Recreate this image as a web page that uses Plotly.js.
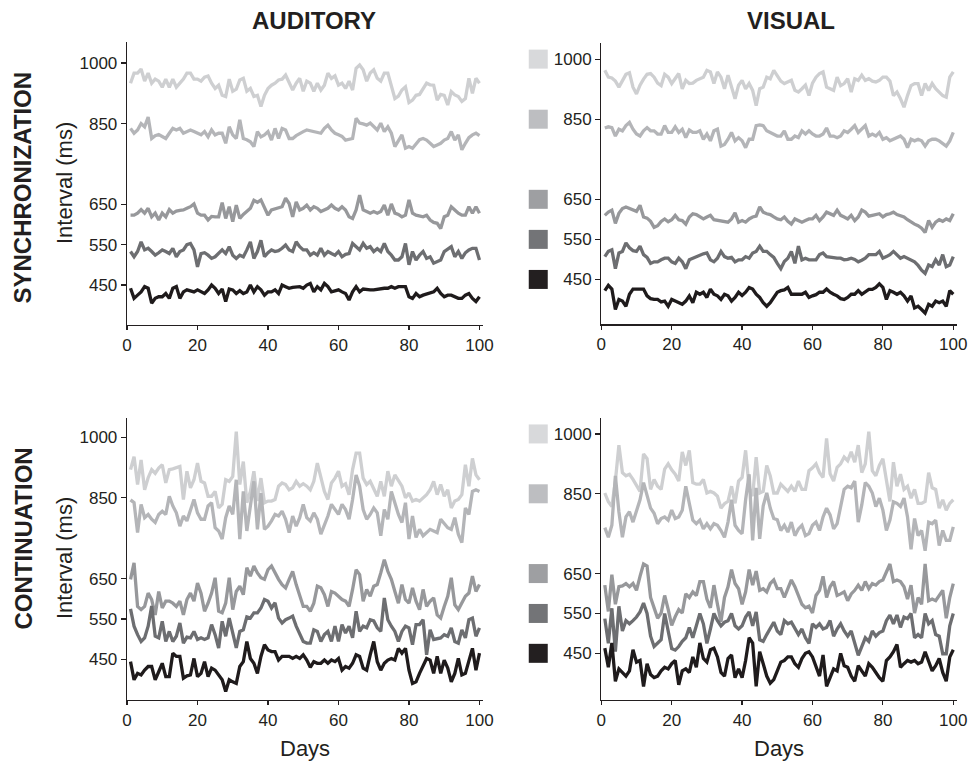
<!DOCTYPE html>
<html>
<head>
<meta charset="utf-8">
<script src="https://cdn.plot.ly/plotly-3.0.1.min.js"></script>
<style>html,body{margin:0;padding:0;background:#fff;}#chart{width:968px;height:762px;}</style>
</head>
<body>
<div id="chart"></div>
<script>
// Interval levels (ms), used for legend squares and y tick labels
const LEVELS = [1000, 850, 650, 550, 450];
const LEVEL_LABELS = ['1000', '850', '650', '550', '450'];
const X_TICKS = [0, 20, 40, 60, 80, 100];
const COLUMN_TITLES = ['AUDITORY', 'VISUAL'];
const ROW_TITLES = ['SYNCHRONIZATION', 'CONTINUATION'];

// ---- Synchronization, Auditory (days 1..100) ----
const SA_1000 = [950,975,975,985,955,975,950,960,955,940, 960,940,960,940,950,960,975,975,960,960, 955,965,968,950,937,945,920,917,960,930, 935,958,962,930,937,917,920,892,920,937, 945,950,958,960,970,950,933,950,962,930, 955,950,930,950,933,945,975,962,968,945, 950,937,955,933,987,995,983,955,975,983, 962,955,975,975,941,912,918,933,941,902, 908,920,922,937,950,946,945,908,922,920, 896,929,921,917,905,912,962,925,962,950];
const SA_850 = [838,826,834,850,842,866,813,820,823,818, 813,826,838,834,838,826,830,834,830,826, 822,830,817,834,822,826,826,801,842,822, 813,859,813,810,805,793,830,817,822,830, 809,838,813,838,834,813,813,820,826,830, 834,832,830,828,826,838,846,834,826,822, 818,809,811,813,863,851,849,846,851,842, 834,851,830,842,826,793,809,822,789,793, 789,800,810,813,809,801,793,797,801,809, 813,830,809,822,785,801,815,822,826,820];
const SA_650 = [623,623,628,637,628,640,619,628,611,628, 619,637,628,633,635,636,640,644,651,628, 623,623,611,620,619,619,654,615,644,607, 648,615,625,632,640,660,655,661,640,623, 636,638,640,644,665,652,619,656,636,640, 648,636,644,640,632,636,640,648,640,636, 644,636,619,615,636,673,636,632,628,632, 628,632,648,623,651,628,625,619,623,661, 628,623,620,619,623,611,605,603,590,619, 623,644,636,628,623,623,644,628,644,628];
const SA_550 = [533,520,533,557,537,541,533,524,530,537, 533,528,541,520,533,537,550,553,537,495, 528,530,524,516,520,528,537,528,545,524, 516,524,520,537,557,516,533,561,520,530, 537,533,535,541,549,537,533,557,545,537, 537,524,530,524,541,524,533,528,524,533, 520,526,528,553,545,537,553,541,545,533, 540,533,553,533,524,512,512,520,553,500, 533,512,524,533,516,520,504,508,512,533, 540,545,520,533,516,530,537,541,541,512];
const SA_450 = [442,417,425,433,446,442,405,417,421,421, 429,417,442,446,417,433,438,436,433,438, 434,429,438,450,442,429,440,409,440,438, 429,436,429,433,450,433,446,438,425,433, 433,438,429,450,446,442,444,446,446,442, 450,454,433,446,438,454,446,433,436,438, 433,429,413,433,446,433,440,438,438,438, 440,442,442,442,446,442,446,446,446,421, 417,429,421,425,427,429,433,442,429,421, 425,425,420,417,417,425,429,417,409,421];

// ---- Synchronization, Visual ----
const SV_1000 = [972,955,953,945,930,945,962,966,930,913, 935,950,962,964,955,940,934,962,955,939, 950,964,926,947,939,940,947,950,955,972, 968,939,968,955,926,960,930,901,935,947, 926,939,922,884,926,930,955,951,972,960, 945,939,943,947,922,918,926,935,909,940, 955,964,968,930,926,922,955,934,939,951, 918,951,947,960,947,951,945,943,947,955, 955,945,909,918,901,880,909,934,939,939, 909,939,922,939,926,918,909,905,955,968];
const SV_850 = [828,831,829,808,825,821,834,842,825,813, 808,821,829,821,821,813,813,834,817,817, 831,817,825,804,823,817,817,821,800,813, 796,821,825,783,787,800,817,796,804,796, 779,800,800,834,836,834,821,817,813,808, 808,821,800,800,808,804,821,813,821,813, 808,808,813,828,808,808,804,808,821,817, 825,834,817,825,834,808,813,808,817,800, 804,796,800,804,808,800,779,800,796,800, 796,783,796,800,800,796,790,783,796,817];
const SV_650 = [610,618,623,590,615,627,631,628,625,620, 635,606,603,595,580,584,595,601,594,599, 610,599,597,588,606,614,612,606,601,606, 610,599,597,597,595,593,601,616,593,597, 593,601,606,608,631,618,614,612,606,601, 599,606,595,588,601,597,593,597,601,601, 610,597,606,618,614,610,623,610,606,601, 610,597,606,623,618,608,610,612,614,606, 612,614,618,612,608,606,599,593,588,584, 578,567,597,580,593,599,595,601,597,614];
const SV_550 = [507,520,524,477,516,520,541,529,522,520, 533,512,505,490,494,494,499,503,503,494, 490,503,494,477,499,503,507,512,514,516, 499,494,503,520,507,503,505,494,499,499, 507,503,516,520,533,520,520,512,505,490, 477,495,503,520,490,533,499,503,499,499, 499,512,516,507,505,503,503,503,499,500, 503,500,494,498,503,512,512,512,520,503, 507,512,520,512,503,507,503,499,494,485, 473,465,486,482,499,486,512,482,486,507];
const SV_450 = [422,435,426,375,400,396,383,413,426,426, 426,426,409,402,400,400,394,396,383,400, 396,392,388,396,409,392,418,413,418,405, 426,413,409,400,413,409,396,405,418,410, 418,430,426,413,405,392,383,392,405,418, 422,424,430,413,413,413,413,418,405,409, 412,418,418,426,418,413,409,402,400,405, 413,413,422,413,420,425,425,430,439,430, 400,422,418,413,418,409,396,409,379,383, 375,366,388,383,396,392,396,383,422,413];

// ---- Continuation, Auditory ----
const CA_1000 = [920,952,883,944,870,900,920,911,924,932, 887,920,922,924,928,846,916,875,895,936, 891,887,854,854,866,825,834,895,891,903, 1014,883,940,838,866,916,842,899,838,842, 842,846,879,887,883,870,875,891,879,885, 879,870,891,936,899,866,846,887,899,916, 879,885,858,920,961,961,899,883,891,870, 854,891,854,916,879,907,891,879,850,862, 842,846,842,850,858,870,891,858,883,854, 870,825,842,846,858,932,879,948,907,895];
const CA_850 = [845,838,764,834,801,809,797,789,809,817, 809,854,830,813,780,805,793,817,846,813, 797,797,830,838,776,768,748,801,830,809, 895,748,866,768,830,891,772,862,772,780, 793,809,805,817,797,764,805,780,801,834, 801,793,813,797,760,780,805,834,821,809, 834,821,797,846,907,879,821,797,809,825, 813,756,821,797,866,838,809,789,838,748, 805,752,772,756,764,772,768,764,797,785, 776,772,801,760,739,825,809,866,870,866];
const CA_650 = [648,689,581,573,581,614,598,560,618,577, 594,594,589,581,594,560,598,614,594,639, 614,569,589,614,652,569,565,589,652,573, 618,631,610,677,656,681,664,652,648,672, 681,664,648,635,627,648,668,635,610,581, 581,569,589,631,627,610,581,618,614,606, 598,594,581,623,672,660,594,623,606,631, 635,664,697,668,648,618,589,635,598,589, 627,594,573,623,581,594,602,560,552,581, 606,652,585,573,589,606,614,656,618,635];
const CA_550 = [575,532,511,494,503,532,582,507,503,544, 494,519,494,507,540,490,505,503,519,499, 503,499,503,536,511,478,544,507,552,519, 478,519,523,555,552,565,565,577,598,594, 577,590,552,540,548,552,557,532,511,494, 490,490,523,519,494,511,519,494,532,494, 536,515,532,503,569,519,532,528,548,545, 528,519,602,548,532,519,494,519,532,528, 486,536,536,548,461,523,499,500,503,511, 507,528,494,490,523,503,548,552,507,528];
const CA_450 = [444,399,415,411,423,432,432,399,419,440, 407,407,465,457,457,403,409,411,452,407, 415,444,407,428,423,411,399,370,399,394, 390,432,444,494,452,440,415,457,486,473, 469,469,448,457,457,457,452,457,452,461, 448,430,444,440,440,448,440,448,444,452, 423,432,428,440,461,457,428,423,461,494, 444,423,440,448,452,448,477,465,477,423, 390,394,415,432,452,448,415,457,415,448, 428,394,415,452,411,415,444,477,423,465];

// ---- Continuation, Visual ----
const CV_1000 = [852,830,818,882,972,903,895,899,886,869, 856,950,938,861,886,869,861,912,925,910, 899,882,955,921,959,878,874,874,886,852, 856,852,844,814,825,831,869,826,882,891, 959,865,844,942,852,856,921,895,852,852, 874,865,856,869,856,882,861,861,908,915, 925,903,891,989,900,882,916,925,942,933, 955,929,972,903,925,1006,908,895,921,938, 878,831,929,869,899,861,869,839,861,826, 826,831,903,865,861,814,835,809,826,835];
const CV_850 = [765,741,771,895,805,741,792,805,779,805, 835,878,844,814,801,775,788,792,784,809, 788,792,809,869,826,784,775,784,762,775, 762,775,771,758,741,779,835,771,758,750, 835,899,733,865,737,820,852,814,788,785, 758,771,754,779,745,762,771,745,750,771, 779,758,792,814,797,762,775,818,861,869, 865,882,779,822,878,869,852,818,839,809, 758,784,830,826,818,839,792,711,788,745, 758,707,779,775,784,720,758,733,733,767];
const CV_650 = [621,555,647,573,617,619,625,617,625,608, 643,674,669,590,564,538,551,595,560,520, 542,560,551,599,590,604,595,630,630,586, 564,621,573,529,590,617,660,625,612,573, 604,660,621,656,608,612,604,625,634,612, 612,590,612,634,617,595,573,564,568,551, 595,608,643,590,617,630,595,599,604,582, 599,608,621,608,630,612,625,621,630,634, 652,674,630,634,630,617,586,621,551,590, 573,674,582,586,582,595,608,538,590,625];
const CV_550 = [537,475,563,454,568,506,532,524,532,541, 554,576,550,493,467,475,484,550,506,462, 458,467,480,489,515,489,519,550,524,475, 511,550,532,519,528,532,550,519,511,519, 541,554,519,554,484,480,497,511,528,506, 497,532,524,528,511,497,511,489,475,524, 515,524,511,515,532,493,511,524,506,493, 506,475,445,467,489,480,506,493,502,506, 532,546,524,546,515,541,537,550,489,497, 489,550,524,532,497,493,449,449,519,550];
const CV_450 = [463,415,476,380,411,402,393,406,459,428, 432,367,424,397,389,393,406,415,411,424, 432,371,406,411,402,441,415,476,437,428, 459,463,441,402,393,437,446,389,411,389, 432,489,476,367,454,424,393,375,384,406, 428,432,441,441,424,415,437,450,454,441, 415,393,446,367,389,411,406,450,419,415, 393,380,419,406,393,424,415,402,389,380, 432,441,454,472,415,424,432,428,432,424, 428,454,432,406,419,437,402,380,441,459];

const COLORS_LINE = ['#cecfd1', '#b4b5b8', '#97989b', '#6d6e71', '#1f1b1c'];
const COLORS_BOX  = ['#d8d9db', '#bdbec1', '#9e9fa2', '#737477', '#231f20'];

const PANELS = [
  {xa: 'x',  ya: 'y',  series: [SA_1000, SA_850, SA_650, SA_550, SA_450], legendAxis: null},
  {xa: 'x2', ya: 'y2', series: [SV_1000, SV_850, SV_650, SV_550, SV_450], legendAxis: 'x5'},
  {xa: 'x3', ya: 'y3', series: [CA_1000, CA_850, CA_650, CA_550, CA_450], legendAxis: null},
  {xa: 'x4', ya: 'y4', series: [CV_1000, CV_850, CV_650, CV_550, CV_450], legendAxis: 'x6'}
];

const traces = [];
PANELS.forEach(p => {
  p.series.forEach((vals, k) => {
    traces.push({
      type: 'scatter', mode: 'lines',
      x: vals.map((_, i) => i + 1), y: vals,
      xaxis: p.xa, yaxis: p.ya,
      line: {color: COLORS_LINE[k], width: 3.3, shape: 'linear'},
      hoverinfo: 'skip', showlegend: false
    });
  });
  if (p.legendAxis) {
    // legend squares: one per interval level, placed on the panel's own y scale
    traces.push({
      type: 'scatter', mode: 'markers',
      x: LEVELS.map(() => 0.5), y: LEVELS,
      xaxis: p.legendAxis, yaxis: p.ya, cliponaxis: false,
      marker: {symbol: 'square', size: 19, color: COLORS_BOX, line: {width: 0}},
      hoverinfo: 'skip', showlegend: false
    });
  }
});

const FONT = 'Liberation Sans, Arial, Helvetica, sans-serif';
const INK = '#231f20';
const W = 968, H = 762;
const px = v => v / W;
const py = v => 1 - v / H;

function xaxis(l, r, anchor) {
  return {
    domain: [px(l), px(r)], anchor: anchor, range: [0, 101],
    tickvals: X_TICKS, ticktext: X_TICKS.map(String),
    ticks: 'outside', ticklen: 4, tickwidth: 1.2, tickcolor: INK,
    showline: true, linecolor: INK, linewidth: 1.3,
    showgrid: false, zeroline: false,
    tickfont: {family: FONT, size: 17, color: INK}
  };
}
function yaxis(top, bottom, range, anchor) {
  return {
    domain: [py(bottom), py(top)], anchor: anchor, range: range,
    tickvals: LEVELS, ticktext: LEVEL_LABELS,
    ticks: 'outside', ticklen: 5, tickwidth: 1.2, tickcolor: INK,
    showline: true, linecolor: INK, linewidth: 1.3,
    showgrid: false, zeroline: false,
    tickfont: {family: FONT, size: 17, color: INK}
  };
}
function legendAxis(anchor) {
  return {domain: [px(528.5), px(548)], anchor: anchor, range: [0, 1], visible: false,
          showgrid: false, zeroline: false, fixedrange: true};
}

const ann = [];
function addText(text, x, y, size, bold, angle) {
  ann.push({
    text: bold ? '<b>' + text + '</b>' : text,
    xref: 'paper', yref: 'paper', x: px(x), y: py(y),
    xanchor: 'center', yanchor: 'middle', showarrow: false,
    textangle: angle || 0,
    font: {family: FONT, size: size, color: INK}
  });
}
addText(COLUMN_TITLES[0], 314, 21, 24, true);
addText(COLUMN_TITLES[1], 791, 21, 24, true);
addText(ROW_TITLES[0], 22.5, 188, 24, true, -90);
addText(ROW_TITLES[1], 22.5, 539, 24, true, -90);
addText('Interval (ms)', 64, 183, 22, false, -90);
addText('Interval (ms)', 64, 558, 22, false, -90);
addText('Days', 305, 748, 22, false);
addText('Days', 778.5, 748, 22, false);

const layout = {
  width: W, height: H,
  margin: {l: 0, r: 0, t: 0, b: 0, pad: 0},
  paper_bgcolor: '#ffffff', plot_bgcolor: 'rgba(0,0,0,0)',
  showlegend: false,
  font: {family: FONT, color: INK},
  xaxis:  xaxis(127, 483, 'y'),
  yaxis:  yaxis(42, 325, [351, 1052], 'x'),
  xaxis2: xaxis(601.3, 956.8, 'y2'),
  yaxis2: yaxis(42.7, 324.3, [338, 1041], 'x2'),
  xaxis3: xaxis(127, 483, 'y3'),
  yaxis3: yaxis(418, 700, [349, 1048], 'x3'),
  xaxis4: xaxis(601.3, 956.8, 'y4'),
  yaxis4: yaxis(418, 700, [333, 1040], 'x4'),
  xaxis5: legendAxis('y2'),
  xaxis6: legendAxis('y4'),
  annotations: ann
};

Plotly.newPlot('chart', traces, layout, {staticPlot: true, displayModeBar: false});
</script>
</body>
</html>
